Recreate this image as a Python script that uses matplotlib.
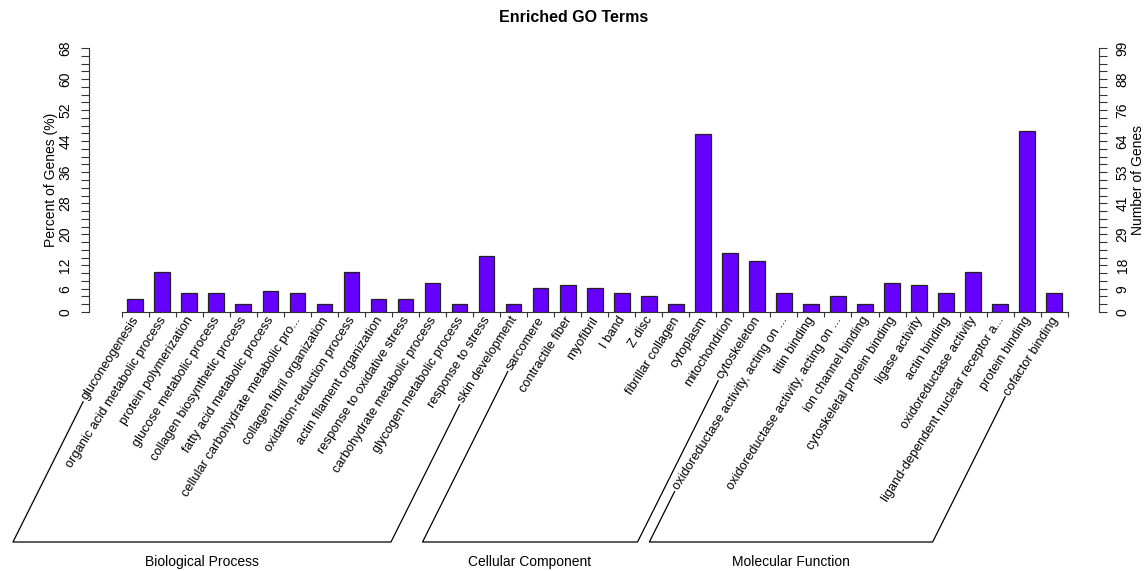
import matplotlib
matplotlib.use("Agg")
import matplotlib.pyplot as plt
from matplotlib.lines import Line2D
import numpy as np

plt.rcParams['font.family'] = ['Liberation Sans', 'DejaVu Sans']

# ---------------- data ----------------
terms = [
    "gluconeogenesis", "organic acid metabolic process", "protein polymerization",
    "glucose metabolic process", "collagen biosynthetic process",
    "fatty acid metabolic process", "cellular carbohydrate metabolic pro...",
    "collagen fibril organization", "oxidation-reduction process",
    "actin filament organization", "response to oxidative stress",
    "carbohydrate metabolic process", "glycogen metabolic process",
    "response to stress", "skin development",
    "sarcomere", "contractile fiber", "myofibril", "I band", "Z disc",
    "fibrillar collagen", "cytoplasm", "mitochondrion", "cytoskeleton",
    "oxidoreductase activity, acting on ...", "titin binding",
    "oxidoreductase activity, acting on ...", "ion channel binding",
    "cytoskeletal protein binding", "ligase activity", "actin binding",
    "oxidoreductase activity", "ligand-dependent nuclear receptor a...",
    "protein binding", "cofactor binding",
]
gene_counts = [5, 15, 7, 7, 3, 8, 7, 3, 15, 5, 5, 11, 3, 21, 3,
               9, 10, 9, 7, 6, 3, 67, 22, 19,
               7, 3, 6, 3, 11, 10, 7, 15, 3, 68, 7]
group_names = ["Biological Process", "Cellular Component", "Molecular Function"]
group_sizes = [15, 9, 11]
total_genes = 146
pct_max = 68
pct_label_values = [0, 6, 12, 20, 28, 36, 44, 52, 60, 68]

percents = [100.0 * c / total_genes for c in gene_counts]

# ---------------- layout ----------------
W, H = 1148, 571
FS = 10
FS_LAB = 9.3
fig = plt.figure(figsize=(W / 100, H / 100), dpi=100)
ax_left_px, ax_right_px = 89, 1099
ax_top_px, ax_bot_px = 48, 312
ax = fig.add_axes([ax_left_px / W, (H - ax_bot_px) / H,
                   (ax_right_px - ax_left_px) / W, (ax_bot_px - ax_top_px) / H])

first_center_px, step_px = 135.2, 27.03
xmin = (ax_left_px - first_center_px) / step_px
xmax = (ax_right_px - first_center_px) / step_px
n = len(terms)
x = np.arange(n)

ax.bar(x, percents, width=0.58, color="#6600FF", edgecolor="#222222",
       linewidth=0.9, zorder=3)
ax.set_xlim(xmin, xmax)
ax.set_ylim(0, pct_max)

for s in ["top", "right"]:
    ax.spines[s].set_visible(False)
ax.spines["bottom"].set_bounds(-0.5, n - 0.5)
ax.spines["bottom"].set_color("#333333")
ax.spines["left"].set_color("#333333")

ax.set_xticks(np.arange(n + 1) - 0.5)
ax.set_xticklabels([])
ax.tick_params(axis="x", length=3.5, width=0.8, color="#333333", direction="out")

yt = np.arange(0, pct_max + 1, 2)
ax.set_yticks(yt)
ax.set_yticklabels([str(v) if v in pct_label_values else "" for v in yt],
                   rotation=90, va="center", fontsize=FS)
ax.tick_params(axis="y", length=6, width=0.8, color="#333333", pad=6)
ax.set_ylabel("Percent of Genes (%)", fontsize=FS, labelpad=0)

ax2 = ax.twinx()
ax2.set_ylim(0, pct_max)
for s in ["top", "left", "bottom"]:
    ax2.spines[s].set_visible(False)
ax2.spines["right"].set_color("#333333")
ax2.set_yticks(yt)
ax2.set_yticklabels([str(int(round(v * total_genes / 100))) if v in pct_label_values else ""
                     for v in yt], rotation=90, va="center", fontsize=FS)
ax2.tick_params(axis="y", length=6, width=0.8, color="#333333", pad=6)
ax2.set_ylabel("Number of Genes", fontsize=FS, labelpad=1)

fig.text(0.5, 1 - 18 / H, "Enriched GO Terms", ha="center", va="center",
         fontsize=11.5, fontweight="bold")

# rotated category labels
angle = 57.5
lab_texts = []
for i, t in enumerate(terms):
    tx = ax.text(i + 0.05, -1.5, t, rotation=angle, rotation_mode="anchor",
                 ha="right", va="center", fontsize=FS_LAB, transform=ax.transData,
                 clip_on=False)
    lab_texts.append(tx)

fig.canvas.draw()
renderer = fig.canvas.get_renderer()

# bracket lines
bottom_y_px = 542
cosA, sinA = np.cos(np.radians(angle)), np.sin(np.radians(angle))


def label_start(tx):
    w, h, d = renderer.get_text_width_height_descent(tx.get_text(), tx.get_fontproperties(), ismath=False)
    ax_, ay_ = ax.transData.transform(tx.get_position())
    gap = 3
    return ax_ - (w + gap) * cosA, ay_ - (w + gap) * sinA


start = 0
for name, size in zip(group_names, group_sizes):
    i0, i1 = start, start + size - 1
    lx, ly = label_start(lab_texts[i0])
    rx, ry = label_start(lab_texts[i1])
    by = H - bottom_y_px
    lbx = lx - 0.5 * (ly - by)
    rbx = rx - 0.5 * (ry - by)
    fig.add_artist(Line2D([lx / W, lbx / W, rbx / W, rx / W],
                          [ly / H, by / H, by / H, ry / H],
                          color="black", linewidth=0.9))
    fig.text((lbx + rbx) / 2 / W, (H - 562) / H, name, ha="center", va="center",
             fontsize=FS)
    start += size

fig.savefig("out.png", dpi=100)
